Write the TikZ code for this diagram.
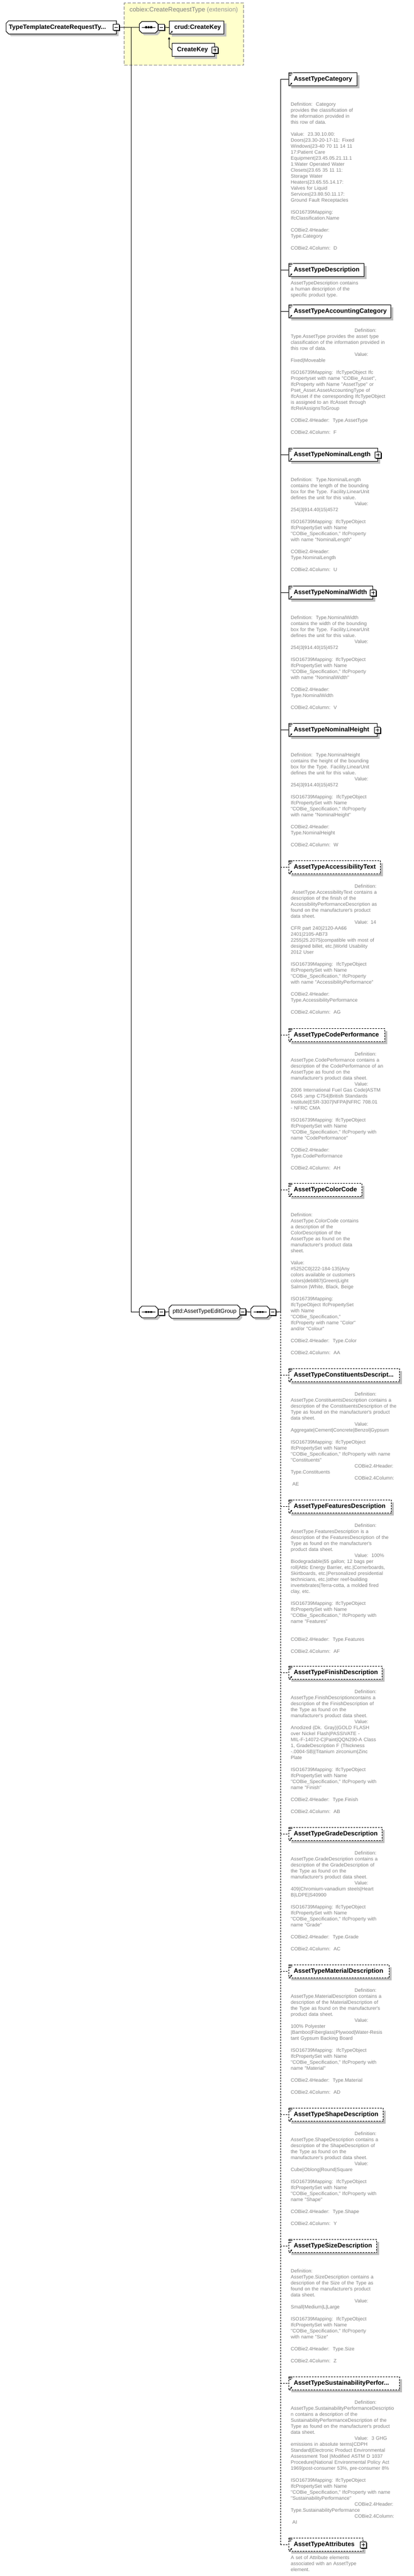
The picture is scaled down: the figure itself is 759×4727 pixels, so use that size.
\documentclass[tikz,border=0pt]{standalone}
\usepackage{fontspec}
\setmainfont{Liberation Sans}
\newfontfamily\annotfont{Liberation Sans}
\usetikzlibrary{shadows}
\usetikzlibrary{positioning}
\usetikzlibrary{arrows.meta}
\pgfdeclarelayer{back}
\pgfdeclarelayer{frame}
\pgfsetlayers{back,frame,main}
\definecolor{shade}{RGB}{192,192,192}
\definecolor{note}{RGB}{128,128,128}
\definecolor{faint}{RGB}{150,150,150}
\definecolor{extfill}{RGB}{255,255,204}
\tikzstyle{shadowed} = [drop shadow={shadow xshift=4pt, shadow yshift=-4pt, fill=shade, opacity=1}]
\tikzstyle{element} = [rectangle, draw=black, line width=1pt, fill=white, shadowed,
  anchor=north west, minimum height=24pt, inner sep=0pt, align=left,
  font=\fontsize{11.5}{13}\selectfont\bfseries]
\tikzstyle{optional} = [element, dash pattern=on 3pt off 2pt]
\tikzstyle{root} = [rectangle, anchor=north west, minimum height=24pt, inner sep=0pt, align=left,
  font=\fontsize{11.5}{13}\selectfont\bfseries]
\tikzstyle{compositor} = [rectangle, minimum width=34pt, minimum height=21pt, inner sep=0pt]
\tikzstyle{group} = [compositor, minimum width=130pt, minimum height=24pt, font=\fontsize{10.5}{12}\selectfont]
\tikzstyle{toggle} = [rectangle, draw=black, line width=1pt, fill=white, minimum size=11pt, inner sep=0pt,
  drop shadow={shadow xshift=1.5pt, shadow yshift=-1.5pt, fill=black, opacity=1}]
\tikzstyle{extension} = [rectangle, draw=note, line width=1pt, dash pattern=on 6pt off 3pt, fill=extfill,
  anchor=north west, minimum width=219pt, minimum height=114pt, inner sep=0pt]
\tikzstyle{annot} = [inner sep=0pt, text width=240pt, align=left, text=note,
  font=\annotfont\fontsize{9}{11}\selectfont]
\tikzstyle{link} = [line width=1pt]
\tikzstyle{optlink} = [link, dash pattern=on 3pt off 2pt]
\newcommand{\pushright}{\hspace*{117pt}}
\newcommand{\trunc}{...}
\newcommand{\octframe}[1]{ %
  % cut-corner outline behind a compositor or group node
  \begin{pgfonlayer}{frame}
    \draw[link, fill=white, shadowed] ([xshift=5pt]#1.north west) -- ([xshift=-5pt]#1.north east)
      -- ([yshift=-5pt]#1.north east) -- ([yshift=5pt]#1.south east) -- ([xshift=-5pt]#1.south east)
      -- ([xshift=5pt]#1.south west) -- ([yshift=5pt]#1.south west) -- ([yshift=-5pt]#1.north west) -- cycle;
  \end{pgfonlayer}
}
\newcommand{\docicon}[1]{ %
  % small annotation mark in the top left corner
  \fill[white] ([xshift=0.5pt,yshift=1pt]#1.north west) rectangle ([xshift=8pt,yshift=-6.5pt]#1.north west);
  \foreach \l/\d in {6/0.5,6/2.7,4/4.9} {
    \draw[line width=0.8pt] ([xshift=1pt,yshift=-\d pt]#1.north west) -- ++(\l,0);
  }
}
\newcommand{\reficon}[1]{ %
  \draw[line width=0.9pt, -{Triangle[length=2.6pt,width=3.2pt]}] ([xshift=2pt,yshift=1.5pt]#1.south west) -- ++(4.5,-4.5);
}
\newcommand{\seqmarks}[1]{ %
  \draw[line width=1pt] ([xshift=5pt]#1.west) -- ([xshift=-5pt]#1.east);
  \foreach \d in {-4.5,0,4.5} {
    \fill ([xshift=\d pt]#1.center) +(-1.6,-1.6) rectangle +(1.6,1.6);
  }
}
\newcommand{\minus}[1]{\draw[line width=1pt] ([xshift=-3pt]#1.center) -- ([xshift=3pt]#1.center);}
\newcommand{\plus}[1]{\minus{#1}\draw[line width=1pt] ([yshift=-3pt]#1.center) -- ([yshift=3pt]#1.center);}

\begin{document}
\begin{tikzpicture}[x=1pt,y=-1pt]
  \useasboundingbox (0,0) rectangle (759,4727);

  \begin{pgfonlayer}{back}
    \node[extension] (ext) at (227,5) {};
  \end{pgfonlayer}
  \node[anchor=west, text=note, font=\fontsize{11.5}{13}\selectfont] (extname) at (234,19)
    {cobiex:CreateRequestType \textcolor{faint}{(extension)}};

  \node[root, text width=202pt] (root) at (11,38) {\hspace*{5pt}TypeTemplateCreateRequestTy...};
  \begin{pgfonlayer}{frame}
    \draw[link, fill=white, shadowed] ([xshift=5pt]root.north west) -- (root.north east) -- (root.south east)
      -- ([xshift=5pt]root.south west) -- ([yshift=5pt]root.south west) -- ([yshift=-5pt]root.north west) -- cycle;
  \end{pgfonlayer}
  \node[toggle] (rootm) at (root.east) {}; \minus{rootm}

  \node[compositor] (seq1) at (272.5,50) {}; \octframe{seq1} \seqmarks{seq1}
  \node[toggle, right=0pt of seq1] (seq1m) {}; \minus{seq1m}
  \node[element, text width=100pt] (ck) at (310,38) {\hspace*{9pt}crud:CreateKey};
  \reficon{ck}
  \node[element, text width=78pt] (lk) at (315,79) {\hspace*{9pt}CreateKey};
  \node[toggle] (lkp) at (lk.east) {}; \plus{lkp}

  \coordinate (j) at (240,50);
  \draw[link] (rootm.east) -- (seq1.west);
  \draw[link] (seq1m.east) -- (ck.west);
  \draw[link, -{Triangle[length=4pt,width=4pt]}] (lk.west) -- ++(-5,-5) -- ([yshift=-5pt]ck.south west);

  \node[compositor] (seq2) at (272.5,2407.5) {}; \octframe{seq2} \seqmarks{seq2}
  \node[toggle, right=0pt of seq2] (seq2m) {}; \minus{seq2m}
  \node[group] (grp) at (375,2407) {pttd:AssetTypeEditGroup}; \octframe{grp}
  \node[toggle] (grpm) at ([xshift=5pt]grp.east) {}; \minus{grpm}
  \node[compositor] (seq3) at (477,2407.5) {}; \octframe{seq3} \seqmarks{seq3}
  \node[toggle, right=0pt of seq3] (seq3m) {}; \minus{seq3m}

  \draw[link] (j) |- (seq2.west);
  \draw[link] (seq2m.east) -- (grp.west);
  \draw[link] (grpm.east) -- (seq3.west);

  % children of the sequence
  \foreach \n/\y/\w/\t in {cat/133/125/AssetTypeCategory, desc/483/138/AssetTypeDescription,
      acc/559/187/AssetTypeAccountingCategory, len/822/163/AssetTypeNominalLength,
      wid/1075/154/AssetTypeNominalWidth, hgt/1327/162/AssetTypeNominalHeight} {
    \node[element, text width=\w pt] (\n) at (529,\y) {\hspace*{9pt}\t};
  }
  \foreach \n/\y/\w/\t in {acs/1579/168/AssetTypeAccessibilityText, code/1887/176/AssetTypeCodePerformance,
      color/2171/134/AssetTypeColorCode, cons/2511/203/AssetTypeConstituentsDescript\trunc,
      feat/2752/188/AssetTypeFeaturesDescription, fin/3057/171/AssetTypeFinishDescription,
      grade/3353/171/AssetTypeGradeDescription, mat/3605/184/AssetTypeMaterialDescription,
      shape/3868/173/AssetTypeShapeDescription, size/4109/161/AssetTypeSizeDescription,
      sust/4361/203/AssetTypeSustainabilityPerfor\trunc, attr/4657/136/AssetTypeAttributes} {
    \node[optional, text width=\w pt] (\n) at (529,\y) {\hspace*{9pt}\t};
  }
  \foreach \n in {len,wid,hgt,attr} {
    \node[toggle] (\n-p) at (\n.east) {}; \plus{\n-p}
  }
  \foreach \n in {cat,desc,acc,len,wid,hgt,acs,code,color,cons,feat,fin,grade,mat,shape,size,sust,attr} {
    \docicon{\n} \reficon{\n}
  }

  \coordinate (bus) at (514,2407);
  \draw[link] (seq3m.east) -- (bus);
  \draw[link] (bus) -- (bus |- cat.west);
  \draw[optlink] (bus) -- (bus |- attr.west);
  \foreach \n in {cat,desc,acc,len,wid,hgt} { \draw[link] (bus |- \n.west) -- (\n.west); }
  \foreach \n in {acs,code,color,cons,feat,fin,grade,mat,shape,size,sust,attr} {
    \draw[optlink] (bus |- \n.west) -- (\n.west);
  }

  % annotations
  \node[annot, below right=29pt and 4pt of cat.south west] (cat-doc) {\strut Definition:\ \ Category\\
    provides the classification of\\ the information provided in\\ this row of data.\\[11pt]
    Value:\ \ 23.30.10.00:\\ Doors|23.30-20-17-11: Fixed\\ Windows|23-40 70 11 14 11\\ 17:Patient Care\\
    Equipment|23.45.05.21.11.1\\ 1:Water Operated Water\\ Closets|23.65 35 11 11:\\ Storage Water\\
    Heaters|23.65.55.14.17:\\ Valves for Liquid\\ Services|23.80.50.11.17:\\ Ground Fault Receptacles\\[11pt]
    ISO16739Mapping:\\ IfcClassification.Name\\[11pt] COBie2.4Header:\\ Type.Category\\[11pt]
    COBie2.4Column:\ \ D};
  \node[annot, below right=7pt and 4pt of desc.south west] (desc-doc) {\strut AssetTypeDescription contains\\
    a human description of the\\ specific product type.};
  \node[annot, below right=18pt and 4pt of acc.south west] (acc-doc) {\strut\pushright Definition:\\
    Type.AssetType provides the asset type\\ classification of the information provided in\\
    this row of data.\\ \pushright Value:\\ Fixed|Moveable\\[11pt]
    ISO16739Mapping:\ \ IfcTypeObject Ifc\\ Propertyset with name "COBie\_Asset",\\
    IfcProperty with Name "AssetType" or\\ Pset\_Asset.AssetAccountingType of\\
    IfcAsset if the corresponding IfcTypeObject\\ is assigned to an IfcAsset through\\
    IfcRelAssignsToGroup\\[11pt] COBie2.4Header:\ \ Type.AssetType\\[11pt] COBie2.4Column:\ \ F};
  \node[annot, below right=29pt and 4pt of len.south west] (len-doc) {\strut Definition:\ \ Type.NominalLength\\
    contains the length of the bounding\\ box for the Type. Facility.LinearUnit\\
    defines the unit for this value.\\ \pushright Value:\\ 254|3|914.40|15|4572\\[11pt]
    ISO16739Mapping: IfcTypeObject\\ IfcPropertySet with Name\\ "COBie\_Specification," IfcProperty\\
    with name "NominalLength"\\[11pt] COBie2.4Header:\\ Type.NominalLength\\[11pt] COBie2.4Column:\ \ U};
  \node[annot, below right=29pt and 4pt of wid.south west] (wid-doc) {\strut Definition:\ \ Type.NominalWidth\\
    contains the width of the bounding\\ box for the Type. Facility.LinearUnit\\
    defines the unit for this value.\\ \pushright Value:\\ 254|3|914.40|15|4572\\[11pt]
    ISO16739Mapping: IfcTypeObject\\ IfcPropertySet with Name\\ "COBie\_Specification," IfcProperty\\
    with name "NominalWidth"\\[11pt] COBie2.4Header:\\ Type.NominalWidth\\[11pt] COBie2.4Column:\ \ V};
  \node[annot, below right=29pt and 4pt of hgt.south west] (hgt-doc) {\strut Definition:\ \ Type.NominalHeight\\
    contains the height of the bounding\\ box for the Type. Facility.LinearUnit\\
    defines the unit for this value.\\ \pushright Value:\\ 254|3|914.40|15|4572\\[11pt]
    ISO16739Mapping:\ \ IfcTypeObject\\ IfcPropertySet with Name\\ "COBie\_Specification," IfcProperty\\
    with name "NominalHeight"\\[11pt] COBie2.4Header:\\ Type.NominalHeight\\[11pt] COBie2.4Column:\ \ W};
  \node[annot, below right=18pt and 4pt of acs.south west] (acs-doc) {\strut\pushright Definition:\\
    \hspace*{3pt}AssetType.AccessibilityText contains a\\ description of the finish of the\\
    AccessibilityPerformanceDescription as\\ found on the manufacturer's product\\ data sheet.\\
    \pushright Value: 14\\ CFR part 240|2120-AA66\\ 2401|2105-AB73\\ 2255|25.2075|compatible with most of\\
    designed billet, etc.|World Usability\\ 2012 User\\[11pt]
    ISO16739Mapping:\ \ IfcTypeObject\\ IfcPropertySet with Name\\ "COBie\_Specification," IfcProperty\\
    with name "AccessibilityPerformance"\\[11pt] COBie2.4Header:\\ Type.AccessibilityPerformance\\[11pt]
    COBie2.4Column:\ \ AG};
  \node[annot, below right=18pt and 4pt of code.south west] (code-doc) {\strut\pushright Definition:\\
    AssetType.CodePerformance contains a\\ description of the CodePerformance of an\\
    AssetType as found on the\\ manufacturer's product data sheet.\\ \pushright Value:\\
    2006 International Fuel Gas Code|ASTM\\ C645 ;amp C754|British Standards\\
    Institute|ESR-3307|NFPA|NFRC 708.01\\ - NFRC CMA\\[11pt]
    ISO16739Mapping: IfcTypeObject\\ IfcPropertySet with Name\\ "COBie\_Specification," IfcProperty with\\
    name "CodePerformance"\\[11pt] COBie2.4Header:\\ Type.CodePerformance\\[11pt] COBie2.4Column:\ \ AH};
  \node[annot, below right=29pt and 4pt of color.south west] (color-doc) {\strut Definition:\\
    AssetType.ColorCode contains\\ a description of the\\ ColorDescription of the\\ AssetType as found on the\\
    manufacturer's product data\\ sheet.\\[11pt] Value:\\ \#5252C0|222-184-135|Any\\
    colors available or customers\\ colors|deb887|Green|Light\\ Salmon |White, Black, Beige\\[11pt]
    ISO16739Mapping:\\ IfcTypeObject IfcPropertySet\\ with Name\\ "COBie\_Specification,"\\
    IfcProperty with name "Color"\\ and/or "Colour"\\[11pt] COBie2.4Header:\ \ Type.Color\\[11pt]
    COBie2.4Column:\ \ AA};
  \node[annot, below right=18pt and 4pt of cons.south west] (cons-doc) {\strut\pushright Definition:\\
    AssetType.ConstituentsDescription contains a\\ description of the ConstituentsDescription of the\\
    Type as found on the manufacturer's product\\ data sheet.\\ \pushright Value:\\
    Aggregate|Cement|Concrete|Benzol|Gypsum\\[11pt]
    ISO16739Mapping: IfcTypeObject\\ IfcPropertySet with Name\\ "COBie\_Specification," IfcProperty with name\\
    "Constituents"\\ \pushright COBie2.4Header:\\ Type.Constituents\\ \pushright COBie2.4Column:\\
    \hspace*{3pt}AE};
  \node[annot, below right=18pt and 4pt of feat.south west] (feat-doc) {\strut\pushright Definition:\\
    AssetType.FeaturesDescription is a\\ description of the FeaturesDescription of the\\
    Type as found on the manufacturer's\\ product data sheet.\\ \pushright Value:\ \ 100\%\\
    Biodegradable|55 gallon; 12 bags per\\ roll|Attic Energy Barrier, etc.|Cornerboards,\\
    Skirtboards, etc.|Personalized presidential\\ technicians, etc.|other reef-building\\
    invertebrates|Terra-cotta, a molded fired\\ clay, etc.\\[11pt]
    ISO16739Mapping: IfcTypeObject\\ IfcPropertySet with Name\\ "COBie\_Specification," IfcProperty with\\
    name "Features"\\[22pt] COBie2.4Header:\ \ Type.Features\\[11pt] COBie2.4Column:\ \ AF};
  \node[annot, below right=18pt and 4pt of fin.south west] (fin-doc) {\strut\pushright Definition:\\
    AssetType.FinishDescriptioncontains a\\ description of the FinishDescription of\\ the Type as found on the\\
    manufacturer's product data sheet.\\ \pushright Value:\\ Anodized (Dk. Gray)|GOLD FLASH\\
    over Nickel Flash|PASSIVATE -\\ MIL-F-14072-C|Paint|QQN290-A Class\\ 1, GradeDescription F (Thickness\\
    -.0004-SB)|Titanium zirconium|Zinc\\ Plate\\[11pt]
    ISO16739Mapping: IfcTypeObject\\ IfcPropertySet with Name\\ "COBie\_Specification," IfcProperty with\\
    name "Finish"\\[11pt] COBie2.4Header:\ \ Type.Finish\\[11pt] COBie2.4Column:\ \ AB};
  \node[annot, below right=18pt and 4pt of grade.south west] (grade-doc) {\strut\pushright Definition:\\
    AssetType.GradeDescription contains a\\ description of the GradeDescription of\\ the Type as found on the\\
    manufacturer's product data sheet.\\ \pushright Value:\\ 409|Chromium-vanadium steels|Heart\\
    B|LDPE|S40900\\[11pt]
    ISO16739Mapping: IfcTypeObject\\ IfcPropertySet with Name\\ "COBie\_Specification," IfcProperty with\\
    name "Grade"\\[11pt] COBie2.4Header:\ \ Type.Grade\\[11pt] COBie2.4Column:\ \ AC};
  \node[annot, below right=18pt and 4pt of mat.south west] (mat-doc) {\strut\pushright Definition:\\
    AssetType.MaterialDescription contains a\\ description of the MaterialDescription of\\
    the Type as found on the manufacturer's\\ product data sheet.\\ \pushright Value:\\ 100\% Polyester\\
    |Bamboo|Fiberglass|Plywood|Water-Resis\\ tant Gypsum Backing Board\\[11pt]
    ISO16739Mapping:\ \ IfcTypeObject\\ IfcPropertySet with Name\\ "COBie\_Specification," IfcProperty with\\
    name "Material"\\[11pt] COBie2.4Header:\ \ Type.Material\\[11pt] COBie2.4Column:\ \ AD};
  \node[annot, below right=18pt and 4pt of shape.south west] (shape-doc) {\strut\pushright Definition:\\
    AssetType.ShapeDescription contains a\\ description of the ShapeDescription of\\ the Type as found on the\\
    manufacturer's product data sheet.\\ \pushright Value:\\ Cube|Oblong|Round|Square\\[11pt]
    ISO16739Mapping:\ \ IfcTypeObject\\ IfcPropertySet with Name\\ "COBie\_Specification," IfcProperty with\\
    name "Shape"\\[11pt] COBie2.4Header:\ \ Type.Shape\\[11pt] COBie2.4Column:\ \ Y};
  \node[annot, below right=29pt and 4pt of size.south west] (size-doc) {\strut Definition:\\
    AssetType.SizeDescription contains a\\ description of the Size of the Type as\\
    found on the manufacturer's product\\ data sheet.\\ \pushright Value:\\ Small|Medium|L|Large\\[11pt]
    ISO16739Mapping:\ \ IfcTypeObject\\ IfcPropertySet with Name\\ "COBie\_Specification," IfcProperty\\
    with name "Size"\\[11pt] COBie2.4Header:\ \ Type.Size\\[11pt] COBie2.4Column:\ \ Z};
  \node[annot, below right=18pt and 4pt of sust.south west] (sust-doc) {\strut\pushright Definition:\\
    AssetType.SustainabilityPerformanceDescriptio\\ n contains a description of the\\
    SustainabilityPerformanceDescription of the\\ Type as found on the manufacturer's product\\ data sheet.\\
    \pushright Value:\ \ 3 GHG\\ emissions in absolute terms|CDPH\\ Standard|Electronic Product Environmental\\
    Assessment Tool |Modified ASTM D 1037\\ Procedure|National Environmental Policy Act\\
    1969|post-consumer 53\%, pre-consumer 8\%\\[11pt]
    ISO16739Mapping: IfcTypeObject\\ IfcPropertySet with Name\\ "COBie\_Specification," IfcProperty with name\\
    "SustainabilityPerformance"\\ \pushright COBie2.4Header:\\ Type.SustainabilityPerformance\\
    \pushright COBie2.4Column:\\ \hspace*{3pt}AI};
  \node[annot, below right=7pt and 4pt of attr.south west] (attr-doc) {\strut A set of Attribute elements\\
    associated with an AssetType\\ element.};
\end{tikzpicture}
\end{document}
